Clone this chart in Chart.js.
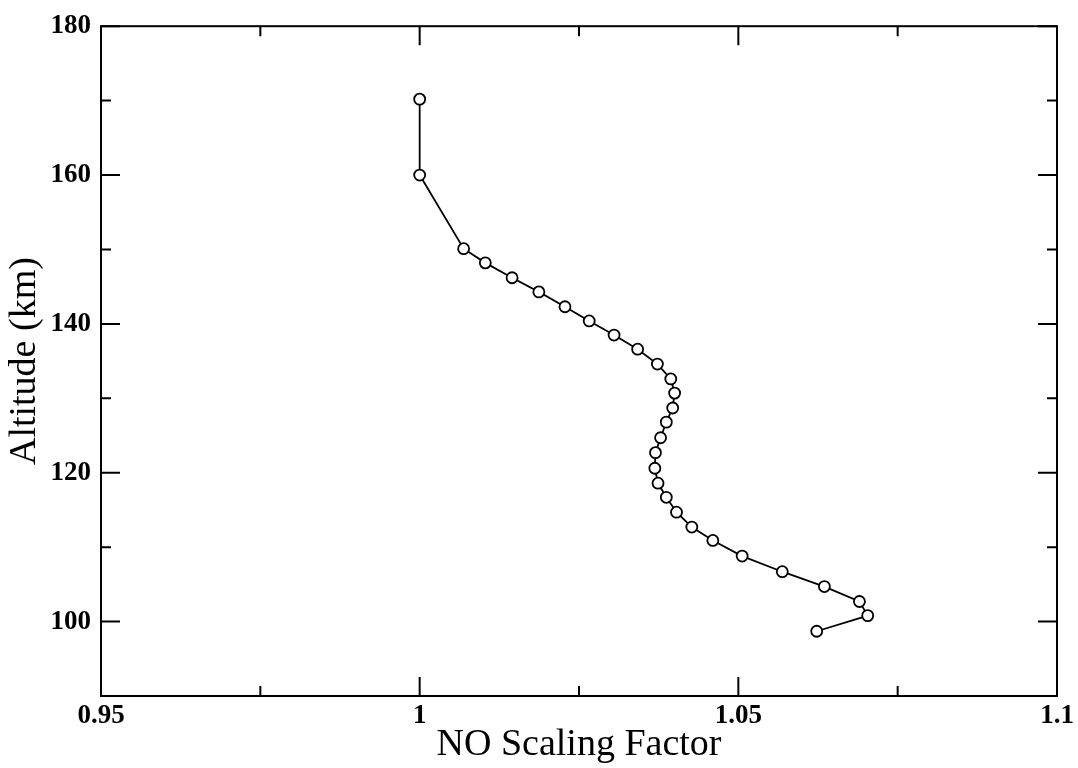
<!DOCTYPE html>
<html>
<head>
<meta charset="utf-8">
<script src="https://cdn.jsdelivr.net/npm/chart.js@4/dist/chart.umd.min.js"></script>
<style>
  html, body { margin: 0; padding: 0; background: #fff; }
  #wrap { width: 1078px; height: 768px; }
</style>
</head>
<body>
<div id="wrap"><canvas id="chart"></canvas></div>
<script>
// altitude (km) vs NO scaling factor
const altitude = [170.2, 160.0, 150.1, 148.2, 146.2, 144.3, 142.3, 140.4, 138.5, 136.6,
    134.6, 132.6, 130.7, 128.7, 126.8, 124.7, 122.7, 120.6, 118.6, 116.7,
    114.7, 112.7, 110.9, 108.8, 106.7, 104.7, 102.7, 100.8, 98.7];
const scaling = [1.000, 1.000, 1.0069, 1.0103, 1.0145, 1.0187, 1.0228, 1.0266, 1.0305, 1.0342,
    1.0373, 1.0394, 1.0400, 1.0397, 1.0387, 1.0378, 1.0370, 1.0369, 1.0374, 1.0387,
    1.0403, 1.0427, 1.0460, 1.0506, 1.0569, 1.0635, 1.0690, 1.0703, 1.0623];

const xTicks = [0.95, 1, 1.05, 1.1];
const xMinor = [0.975, 1.025, 1.075];
const yTicks = [100, 120, 140, 160, 180];
const yMinor = [90, 110, 130, 150, 170];

const points = altitude.map((a, i) => ({ x: scaling[i], y: a }));

// frame + inward ticks on all four sides
const frameTicks = {
    id: 'frameTicks',
    afterDraw(chart) {
        const ctx = chart.ctx;
        const a = chart.chartArea;
        const xs = chart.scales.x, ys = chart.scales.y;
        ctx.save();
        ctx.strokeStyle = '#000';
        ctx.lineWidth = 2;
        ctx.strokeRect(a.left, a.top, a.right - a.left, a.bottom - a.top);
        ctx.beginPath();
        const xt = (v, len) => {
            const px = xs.getPixelForValue(v);
            ctx.moveTo(px, a.bottom); ctx.lineTo(px, a.bottom - len);
            ctx.moveTo(px, a.top); ctx.lineTo(px, a.top + len);
        };
        const yt = (v, len) => {
            const py = ys.getPixelForValue(v);
            ctx.moveTo(a.left, py); ctx.lineTo(a.left + len, py);
            ctx.moveTo(a.right, py); ctx.lineTo(a.right - len, py);
        };
        xTicks.forEach(v => xt(v, 19));
        xMinor.forEach(v => xt(v, 10));
        yTicks.forEach(v => yt(v, 19));
        yMinor.forEach(v => yt(v, 10));
        ctx.stroke();
        ctx.restore();
    }
};

const serif = "'Liberation Serif', 'DejaVu Serif', serif";

new Chart(document.getElementById('chart'), {
    type: 'scatter',
    data: {
        datasets: [{
            data: points,
            showLine: true,
            borderColor: '#000',
            borderWidth: 1.8,
            pointRadius: 5.5,
            pointBorderWidth: 1.8,
            pointBackgroundColor: '#fff',
            pointBorderColor: '#000'
        }]
    },
    options: {
        responsive: true,
        maintainAspectRatio: false,
        animation: false,
        layout: { padding: { top: 24, right: 21, left: 0, bottom: 0 } },
        plugins: { legend: { display: false }, tooltip: { enabled: false } },
        scales: {
            x: {
                type: 'linear',
                min: 0.95,
                max: 1.1,
                afterBuildTicks: s => { s.ticks = xTicks.map(v => ({ value: v })); },
                afterFit: s => { s.height = 72; },
                grid: { display: false, drawTicks: false },
                border: { display: false },
                ticks: {
                    color: '#000',
                    padding: 4,
                    maxRotation: 0,
                    font: { family: serif, size: 27, weight: 'bold' },
                    callback: v => String(v)
                },
                title: {
                    display: true,
                    text: 'NO Scaling Factor',
                    color: '#000',
                    padding: { top: 0, bottom: 0 },
                    font: { family: serif, size: 38 }
                }
            },
            y: {
                type: 'linear',
                min: 90,
                max: 180,
                afterBuildTicks: s => { s.ticks = yTicks.map(v => ({ value: v })); },
                afterFit: s => { s.width = 101; },
                grid: { display: false, drawTicks: false },
                border: { display: false },
                ticks: {
                    color: '#000',
                    padding: 10,
                    font: { family: serif, size: 27, weight: 'bold' },
                    callback: v => String(v)
                },
                title: {
                    display: true,
                    text: 'Altitude (km)',
                    color: '#000',
                    padding: { top: 2, bottom: 0 },
                    font: { family: serif, size: 38 }
                }
            }
        }
    },
    plugins: [frameTicks]
});
</script>
</body>
</html>
